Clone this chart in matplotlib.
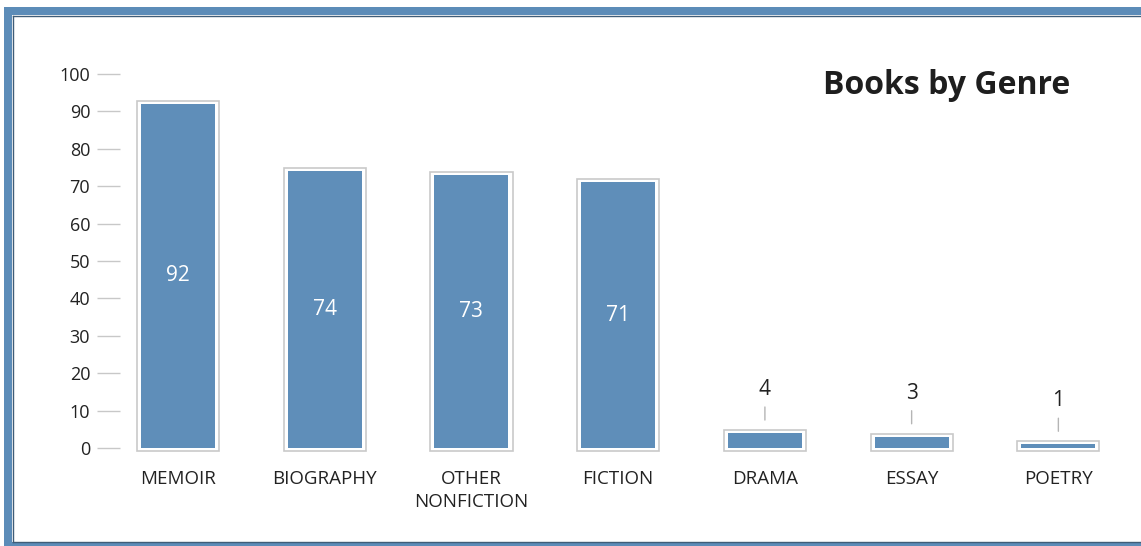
import numpy as np
import matplotlib
matplotlib.use("Agg")
from matplotlib import pyplot as plt
from matplotlib.patches import Rectangle
from matplotlib.transforms import offset_copy

plt.rcParams['font.family'] = ['Open Sans', 'DejaVu Sans']

genres = ['MEMOIR', 'BIOGRAPHY', 'OTHER\nNONFICTION', 'FICTION', 'DRAMA', 'ESSAY', 'POETRY']
counts = [92, 74, 73, 71, 4, 3, 1]
yticks = [0, 10, 20, 30, 40, 50, 60, 70, 80, 90, 100]

bar_blue = '#5f8eb9'
frame_blue = '#5c8cb8'
outline_grey = '#c9c9c9'
text_dark = '#222222'

W, H = 1141, 546
fig = plt.figure(figsize=(W / 100, H / 100), dpi=100)

# frame around the figure (pixel coordinates)
bg = fig.add_axes([0, 0, 1, 1], zorder=0)
bg.set_xlim(0, W)
bg.set_ylim(H, 0)
bg.axis('off')
bg.add_patch(Rectangle((4, 7), W - 4, 8, color=frame_blue, lw=0))
bg.add_patch(Rectangle((4, 7), 8, H - 7, color=frame_blue, lw=0))
bg.add_patch(Rectangle((4, 542), W - 4, 4, color=frame_blue, lw=0))
bg.plot([12.5, W], [15.5, 15.5], color='#3f5d78', lw=1)
bg.plot([12.5, 12.5], [15.5, 541.5], color='#3f5d78', lw=1)
bg.plot([12.5, W], [541.5, 541.5], color='#3f5d78', lw=1)

ax = fig.add_axes([120 / W, (H - 460) / H, 1000 / W, 400 / H], zorder=1)
ax.patch.set_visible(False)

x = np.arange(len(genres))
ax.set_xlim(-0.395, 6.42)
ax.set_ylim(-3.21, 103.74)

bar_w = 0.504
pad_x = 0.028
pad_y = 0.8
ax.bar(x, counts, width=bar_w, color=bar_blue, zorder=2)
ax.bar(x, np.array(counts) + 2 * pad_y, width=bar_w + 2 * pad_x, bottom=-pad_y,
       facecolor='none', edgecolor=outline_grey, linewidth=1.2, zorder=1)

for i, v in enumerate(counts):
    if v > 10:
        ax.text(i, v / 2, str(v), ha='center', va='center', color='white', fontsize=15)
    else:
        base = offset_copy(ax.transData, fig=fig, y=10, units='dots')
        ax.annotate(str(v), xy=(i, v + pad_y), xycoords=base,
                    xytext=(0, 20), textcoords='offset pixels',
                    ha='center', va='bottom', fontsize=15, color=text_dark,
                    arrowprops=dict(arrowstyle='-', color='#b5b5b5', lw=1,
                                    shrinkA=3, shrinkB=0))

for s in ax.spines.values():
    s.set_visible(False)

ax.set_yticks(yticks)
ax.tick_params(axis='y', length=16.5, width=1, color='#c8c8c8', pad=5,
               labelsize=13, labelcolor=text_dark)
ax.set_xticks(x)
ax.set_xticklabels(genres, linespacing=1.4)
ax.tick_params(axis='x', length=0, pad=7, labelsize=13.5, labelcolor=text_dark)

fig.text(1070 / W, 1 - 86 / H, 'Books by Genre', ha='right', va='center',
         fontsize=23, fontweight='bold', color='#1e1e1e')

fig.savefig('out.png', dpi=100)
